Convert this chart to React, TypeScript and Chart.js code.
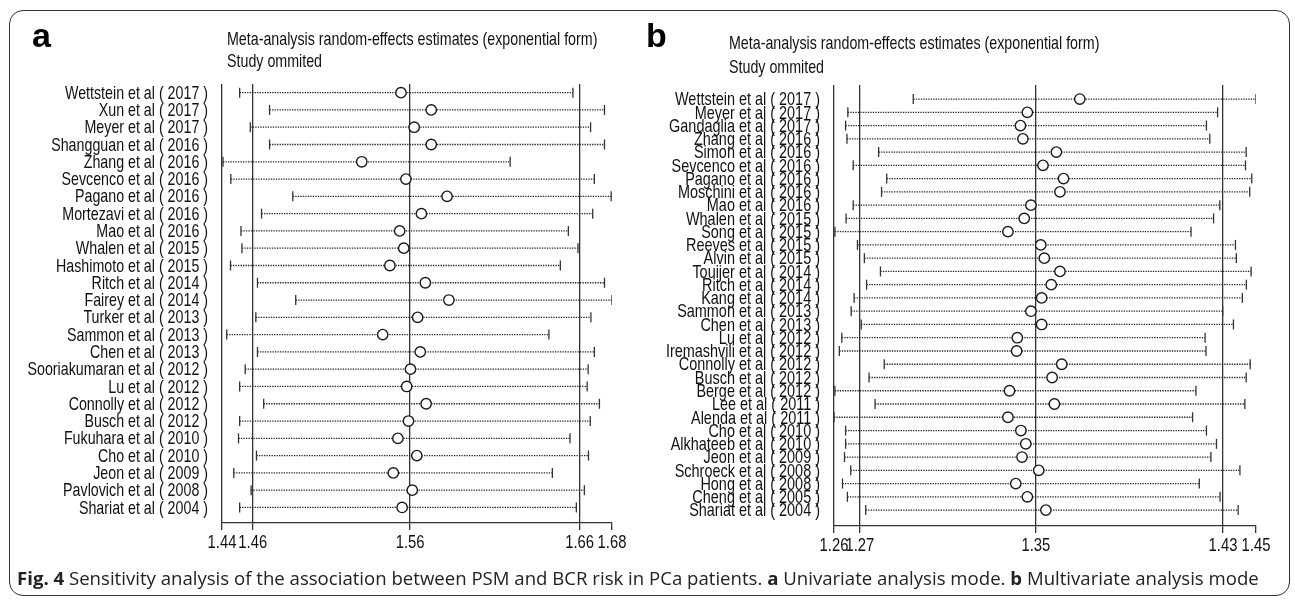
import React, { useEffect, useRef } from "react";
import { Chart, registerables } from "chart.js";
Chart.register(...registerables);

// ---------- Panel a (univariate) ----------
const STUDIES_A = [
  "Wettstein et al ( 2017 )", "Xun et al ( 2017 )", "Meyer et al ( 2017 )", "Shangguan et al ( 2016 )",
  "Zhang et al ( 2016 )", "Sevcenco et al ( 2016 )", "Pagano et al ( 2016 )", "Mortezavi et al ( 2016 )",
  "Mao et al ( 2016 )", "Whalen et al ( 2015 )", "Hashimoto et al ( 2015 )", "Ritch et al ( 2014 )",
  "Fairey et al ( 2014 )", "Turker et al ( 2013 )", "Sammon et al ( 2013 )", "Chen et al ( 2013 )",
  "Sooriakumaran et al ( 2012 )", "Lu et al ( 2012 )", "Connolly et al ( 2012 )", "Busch et al ( 2012 )",
  "Fukuhara et al ( 2010 )", "Cho et al ( 2010 )", "Jeon et al ( 2009 )", "Pavlovich et al ( 2008 )",
  "Shariat et al ( 2004 )",
];
const EST_A = [1.5507, 1.5692, 1.5588, 1.5692, 1.5267, 1.5537, 1.5789, 1.5632, 1.5499, 1.5524, 1.5439, 1.5656,
  1.58, 1.5609, 1.5395, 1.5625, 1.5565, 1.5542, 1.5661, 1.5553, 1.5488, 1.5604, 1.546, 1.5576, 1.5514];
const LOW_A = [1.452, 1.4703, 1.4585, 1.4703, 1.4418, 1.4466, 1.4845, 1.4654, 1.4528, 1.4534, 1.4464, 1.4629,
  1.4863, 1.4619, 1.4441, 1.4629, 1.4554, 1.452, 1.4667, 1.452, 1.4513, 1.4623, 1.4484, 1.459, 1.452];
const HIGH_A = [1.6559, 1.6752, 1.6667, 1.6752, 1.6175, 1.669, 1.6793, 1.668, 1.6531, 1.659, 1.6482, 1.6752,
  1.6798, 1.6669, 1.6412, 1.669, 1.6652, 1.6646, 1.6721, 1.6665, 1.6541, 1.6654, 1.6433, 1.6629, 1.658];
const TICK_VALUES_A = [1.4412, 1.46, 1.5563, 1.66, 1.6798];
const TICK_LABELS_A = ["1.44", "1.46", "1.56", "1.66", "1.68"];

// ---------- Panel b (multivariate) ----------
const STUDIES_B = [
  "Wettstein et al ( 2017 )", "Meyer et al ( 2017 )", "Gandaglia et al ( 2017 )", "Zhang et al ( 2016 )",
  "Simon et al ( 2016 )", "Sevcenco et al ( 2016 )", "Pagano et al ( 2016 )", "Moschini et al ( 2016 )",
  "Mao et al ( 2016 )", "Whalen et al ( 2015 )", "Song et al ( 2015 )", "Reeves et al ( 2015 )",
  "Alvin et al ( 2015 )", "Touijer et al ( 2014 )", "Ritch et al ( 2014 )", "Kang et al ( 2014 )",
  "Sammon et al ( 2013 )", "Chen et al ( 2013 )", "Lu et al ( 2012 )", "Iremashvili et al ( 2012 )",
  "Connolly et al ( 2012 )", "Busch et al ( 2012 )", "Berge et al ( 2012 )", "Lee et al ( 2011 )",
  "Alenda et al ( 2011 )", "Cho et al ( 2010 )", "Alkhateeb et al ( 2010 )", "Jeon et al ( 2009 )",
  "Schroeck et al ( 2008 )", "Hong et al ( 2008 )", "Cheng et al ( 2005 )", "Shariat et al ( 2004 )",
];
const EST_B = [1.3659, 1.3424, 1.3393, 1.3404, 1.3554, 1.3494, 1.3586, 1.357, 1.344, 1.341, 1.3337, 1.3484,
  1.35, 1.357, 1.3531, 1.3488, 1.344, 1.3488, 1.3379, 1.3376, 1.3578, 1.3535, 1.3344, 1.3545, 1.3337, 1.3395,
  1.3417, 1.34, 1.3475, 1.3372, 1.3424, 1.3507];
const LOW_B = [1.2913, 1.262, 1.261, 1.2616, 1.2758, 1.2644, 1.2794, 1.2771, 1.2644, 1.2612, 1.2562, 1.2663,
  1.2694, 1.2766, 1.2704, 1.2648, 1.2635, 1.268, 1.2593, 1.2582, 1.2783, 1.2715, 1.2562, 1.2742, 1.2558, 1.261,
  1.261, 1.2605, 1.2633, 1.2596, 1.2618, 1.27];
const HIGH_B = [1.4448, 1.4276, 1.4226, 1.4241, 1.4404, 1.4401, 1.4429, 1.442, 1.4286, 1.4258, 1.4157, 1.4356,
  1.436, 1.4426, 1.4405, 1.4387, 1.4299, 1.4347, 1.422, 1.4224, 1.4422, 1.4404, 1.4179, 1.4398, 1.4164, 1.4226,
  1.4271, 1.4246, 1.4376, 1.4194, 1.4287, 1.4368];
const TICK_VALUES_B = [1.2558, 1.2674, 1.3462, 1.43, 1.4448];
const TICK_LABELS_B = ["1.26", "1.27", "1.35", "1.43", "1.45"];

const TITLE_1 = "Meta-analysis random-effects estimates (exponential form)";
const TITLE_2 = "Study ommited";

const SANS = '"Liberation Sans", Arial, sans-serif';
const INK = "#111111";
const LINE = "#333333";

const decorPlugin = {
  id: "decor",
  afterDraw(chart: any, _args: any, opts: any) {
    const { ctx } = chart;
    const y = chart.scales.y;
    const x = chart.scales.x;
    ctx.save();
    ctx.fillStyle = INK;
    // row labels
    ctx.font = `${opts.labelSize}px ${SANS}`;
    ctx.textAlign = "right";
    ctx.textBaseline = "middle";
    opts.labels.forEach((lab: string, i: number) => {
      const py = y.getPixelForValue(i);
      ctx.save();
      ctx.translate(opts.labelRight, py + 1);
      ctx.scale(opts.labelSx, 1);
      ctx.fillText(lab, 0, 0);
      ctx.restore();
    });
    // x tick labels (condensed), positioned by the x scale
    ctx.textAlign = "center";
    ctx.textBaseline = "middle";
    ctx.font = `${opts.tickSize}px ${SANS}`;
    opts.tickValues.forEach((v: number, i: number) => {
      const px = x.getPixelForValue(v);
      ctx.save();
      ctx.translate(px, chart.chartArea.bottom + opts.tickOffset);
      ctx.scale(opts.tickSx, 1);
      ctx.fillText(opts.tickLabels[i], 0, 0);
      ctx.restore();
    });
    // titles
    ctx.textAlign = "left";
    ctx.textBaseline = "alphabetic";
    ctx.font = `${opts.titleSize}px ${SANS}`;
    [[TITLE_1, opts.titleY1], [TITLE_2, opts.titleY2]].forEach(([t, ty]: any) => {
      ctx.save();
      ctx.translate(opts.titleX, ty);
      ctx.scale(opts.titleSx, 1);
      ctx.fillText(t, 0, 0);
      ctx.restore();
    });
    // panel letter
    ctx.font = `bold ${opts.letterSize}px ${SANS}`;
    ctx.fillStyle = "#000";
    ctx.fillText(opts.letter, opts.letterX, opts.letterY);
    ctx.restore();
  },
};

function makeConfig(p: any) {
  const whiskers = p.studies.map((_s: string, i: number) => ({
    type: "scatter",
    order: 1,
    showLine: true,
    data: [{ x: p.low[i], y: i }, { x: p.high[i], y: i }],
    borderColor: "#222",
    borderWidth: 1.3,
    borderDash: [1.3, 1.2],
    pointStyle: "line",
    rotation: 90,
    pointRadius: p.capR,
    pointBorderWidth: 1.3,
    pointBorderColor: "#333",
  }));
  const points = {
    type: "scatter",
    order: 0,
    data: p.est.map((v: number, i: number) => ({ x: v, y: i })),
    pointStyle: "circle",
    pointRadius: 5.2,
    pointBorderWidth: 1.4,
    pointBorderColor: "#1a1a1a",
    pointBackgroundColor: "#fff",
  };
  return {
    type: "scatter",
    data: { datasets: [points, ...whiskers] },
    plugins: [decorPlugin],
    options: {
      animation: false,
      responsive: false,
      devicePixelRatio: 1,
      events: [],
      layout: { padding: p.padding },
      plugins: {
        legend: { display: false },
        tooltip: { enabled: false },
        decor: { ...p.decor, tickValues: p.tickValues, tickLabels: p.tickLabels, tickSize: 18.5, tickSx: 0.8, tickOffset: 20 },
      },
      scales: {
        x: {
          type: "linear",
          min: p.tickValues[0],
          max: p.tickValues[p.tickValues.length - 1],
          afterBuildTicks: (s: any) => {
            s.ticks = p.tickValues.map((v: number) => ({ value: v }));
          },
          afterFit: (s: any) => {
            s.height = 40;
          },
          ticks: { display: false },
          grid: {
            drawOnChartArea: true,
            drawTicks: true,
            tickLength: 7,
            lineWidth: 1.3,
            color: (c: any) => (c.index === p.tickValues.length - 1 ? "rgba(0,0,0,0)" : LINE),
            tickColor: LINE,
          },
          border: { display: true, color: LINE, width: 1.3 },
        },
        y: {
          type: "linear",
          display: false,
          reverse: true,
          min: p.yMin,
          max: p.yMax,
        },
      },
    },
  };
}

function Panel(props: { cfg: any; width: number; height: number; left: number }) {
  const ref = useRef<HTMLCanvasElement>(null);
  useEffect(() => {
    const chart = new Chart(ref.current as HTMLCanvasElement, props.cfg);
    return () => chart.destroy();
  }, []);
  return (
    <canvas
      ref={ref}
      width={props.width}
      height={props.height}
      style={{ position: "absolute", left: props.left, top: 0, width: props.width, height: props.height }}
    />
  );
}

export default function App() {
  const cfgA = makeConfig({
    studies: STUDIES_A, est: EST_A, low: LOW_A, high: HIGH_A,
    tickValues: TICK_VALUES_A, tickLabels: TICK_LABELS_A,
    yMin: -0.5, yMax: 24.9, capR: 5,
    padding: { left: 222, right: 28, top: 84, bottom: 39 },
    decor: {
      labels: STUDIES_A, labelRight: 208, labelSize: 18.5, labelSx: 0.77,
      titleX: 227, titleY1: 45, titleY2: 67, titleSize: 19, titleSx: 0.75,
      letter: "a", letterX: 32, letterY: 47, letterSize: 34,
    },
  });
  const cfgB = makeConfig({
    studies: STUDIES_B, est: EST_B, low: LOW_B, high: HIGH_B,
    tickValues: TICK_VALUES_B, tickLabels: TICK_LABELS_B,
    yMin: -1.06, yMax: 32.2, capR: 5,
    padding: { left: 194, right: 39, top: 85, bottom: 36 },
    decor: {
      labels: STUDIES_B, labelRight: 180, labelSize: 19, labelSx: 0.76,
      titleX: 89, titleY1: 49, titleY2: 73, titleSize: 19, titleSx: 0.75,
      letter: "b", letterX: 6, letterY: 47, letterSize: 34,
    },
  });
  return (
    <div style={{ position: "fixed", left: 0, top: 0, width: 1295, height: 602, background: "#fff", overflow: "hidden" }}>
      <div
        style={{
          position: "absolute", left: 9, top: 10, width: 1281, height: 586,
          border: "1.5px solid #333", borderRadius: 14, boxSizing: "border-box",
        }}
      />
      <Panel cfg={cfgA} width={640} height={602} left={0} />
      <Panel cfg={cfgB} width={655} height={602} left={640} />
      <div
        style={{
          position: "absolute", left: 17, top: 567, whiteSpace: "nowrap",
          fontFamily: '"Open Sans", sans-serif', fontSize: 18.6, lineHeight: "22px", color: "#222",
        }}
      >
        <b>Fig. 4</b> Sensitivity analysis of the association between PSM and BCR risk in PCa patients.{" "}
        <b>a</b> Univariate analysis mode. <b>b</b> Multivariate analysis mode
      </div>
    </div>
  );
}
